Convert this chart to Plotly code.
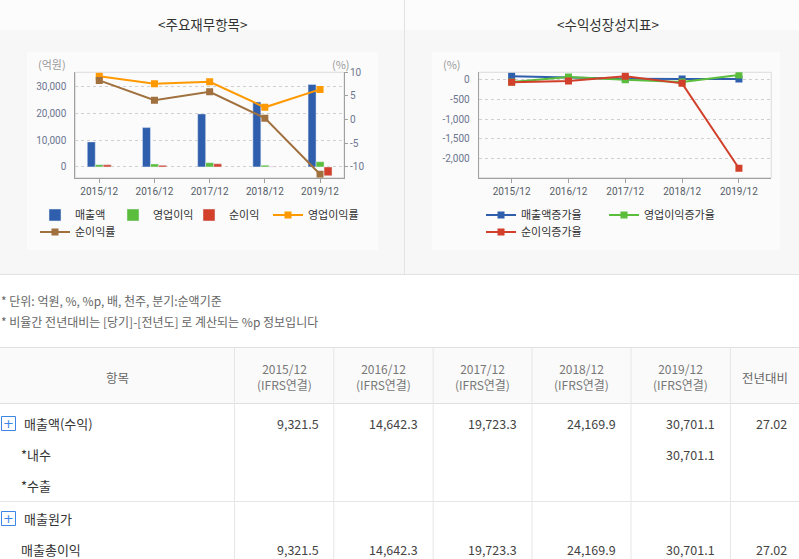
import plotly.graph_objects as go

W, H = 799, 559

# ---------------- data ----------------
periods = ["2015/12", "2016/12", "2017/12", "2018/12", "2019/12"]
revenue = [9321.5, 14642.3, 19723.3, 24169.9, 30701.1]
op_income = [850, 1110, 1580, 630, 1950]
net_income = [770, 600, 1160, 70, -3300]
op_margin = [9.2, 7.6, 8.0, 2.6, 6.4]
net_margin = [8.3, 4.1, 5.9, 0.3, -11.6]

rev_growth = [95, 57.1, 34.7, 22.5, 27.0]
op_growth = [-50, 75, 5, -50, 127]
net_growth = [-60, -25, 93, -85, -2250]

left_y_ticks = [0, 10000, 20000, 30000]
left_y_text = ["0", "10,000", "20,000", "30,000"]
right_y_ticks = [-10, -5, 0, 5, 10]
right_y_text = ["-10", "-5", "0", "5", "10"]
growth_y_ticks = [0, -500, -1000, -1500, -2000]
growth_y_text = ["0", "-500", "-1,000", "-1,500", "-2,000"]

notes = ["* 단위: 억원, %, %p, 배, 천주, 분기:순액기준",
         "* 비율간 전년대비는 [당기]-[전년도] 로 계산되는 %p 정보입니다"]
table_header = ["항목", "2015/12<br>(IFRS연결)", "2016/12<br>(IFRS연결)", "2017/12<br>(IFRS연결)",
                "2018/12<br>(IFRS연결)", "2019/12<br>(IFRS연결)", "전년대비"]
row_labels = ["매출액(수익)", "*내수", "*수출", "매출원가", "매출총이익"]
row_expandable = [True, False, False, True, False]
row_values = [
    ["9,321.5", "14,642.3", "19,723.3", "24,169.9", "30,701.1", "27.02"],
    ["", "", "", "", "30,701.1", ""],
    ["", "", "", "", "", ""],
    ["", "", "", "", "", ""],
    ["9,321.5", "14,642.3", "19,723.3", "24,169.9", "30,701.1", "27.02"],
]

# ---------------- styles ----------------
C_BLUE = "#2f5fac"
C_GREEN = "#5bbd3c"
C_RED = "#d23f2a"
C_ORANGE = "#ff9900"
C_BROWN = "#a0703e"
KFONT = "Noto Sans CJK KR"
NFONT = "Roboto"


def px(x):
    return x / W


def py(y):
    return 1 - y / H


fig = go.Figure()

# left chart bars
fig.add_trace(go.Bar(x=periods, y=revenue, name="매출액", marker_color=C_BLUE,
                     xaxis="x", yaxis="y", legend="legend", legendwidth=33))
fig.add_trace(go.Bar(x=periods, y=op_income, name="영업이익", marker_color=C_GREEN,
                     xaxis="x", yaxis="y", legend="legend", legendwidth=31))
fig.add_trace(go.Bar(x=periods, y=net_income, name="순이익", marker_color=C_RED,
                     xaxis="x", yaxis="y", legend="legend", legendwidth=34))
fig.add_trace(go.Scatter(x=periods, y=op_margin, name="영업이익률", mode="lines+markers",
                         line=dict(color=C_ORANGE, width=2),
                         marker=dict(symbol="square", size=7, color=C_ORANGE),
                         xaxis="x", yaxis="y2", legend="legend"))
fig.add_trace(go.Scatter(x=periods, y=net_margin, name="순이익률", mode="lines+markers",
                         line=dict(color=C_BROWN, width=2),
                         marker=dict(symbol="square", size=7, color=C_BROWN),
                         xaxis="x", yaxis="y2", legend="legend2"))

# right chart lines
fig.add_trace(go.Scatter(x=periods, y=rev_growth, name="매출액증가율", mode="lines+markers",
                         line=dict(color=C_BLUE, width=2),
                         marker=dict(symbol="square", size=7, color=C_BLUE),
                         xaxis="x2", yaxis="y3", legend="legend3", legendwidth=78))
fig.add_trace(go.Scatter(x=periods, y=op_growth, name="영업이익증가율", mode="lines+markers",
                         line=dict(color=C_GREEN, width=2),
                         marker=dict(symbol="square", size=7, color=C_GREEN),
                         xaxis="x2", yaxis="y3", legend="legend3"))
fig.add_trace(go.Scatter(x=periods, y=net_growth, name="순이익증가율", mode="lines+markers",
                         line=dict(color=C_RED, width=2),
                         marker=dict(symbol="square", size=7, color=C_RED),
                         xaxis="x2", yaxis="y3", legend="legend4"))

tickfont_y = dict(family=NFONT, size=10, color="#6b7690")
tickfont_x = dict(family=NFONT, size=10, color="#555b66")

LD = [px(75.3), px(344)]
RD = [px(478.7), px(771.3)]
YD = [py(177.7), py(72.3)]

legend_common = dict(orientation="h", xanchor="left", yanchor="top",
                     bgcolor="rgba(0,0,0,0)", borderwidth=0, itemwidth=30,
                     font=dict(family=KFONT, size=11, color="#333333"),
                     itemclick=False, itemdoubleclick=False)

fig.update_layout(
    width=W, height=H,
    margin=dict(l=0, r=0, t=0, b=0, autoexpand=False),
    paper_bgcolor="white", plot_bgcolor="white",
    barmode="group", bargap=0.566, bargroupgap=0,
    showlegend=True,
    legend=dict(x=px(35), y=py(215 - 14.5), **legend_common),
    legend2=dict(x=px(35), y=py(232 - 14.5), **legend_common),
    legend3=dict(x=px(481), y=py(215 - 14.5), **legend_common),
    legend4=dict(x=px(481), y=py(232 - 14.5), **legend_common),
    xaxis=dict(domain=LD, anchor="y", type="category", range=[-0.434, 4.434],
               showline=True, linecolor="#a0a0a0", linewidth=1,
               ticks="outside", ticklen=4, tickcolor="#a0a0a0",
               tickfont=tickfont_x, showgrid=False, zeroline=False, fixedrange=True),
    yaxis=dict(domain=YD, anchor="x", range=[-4000, 35200],
               tickvals=left_y_ticks, ticktext=left_y_text,
               showgrid=True, gridcolor="#d0d0d0", griddash="dot", gridwidth=1,
               showline=True, linecolor="#a0a0a0", ticks="", ticklabelstandoff=6,
               zeroline=False, tickfont=tickfont_y, fixedrange=True),
    yaxis2=dict(overlaying="y", side="right", anchor="x", range=[-12.32, 10.02],
                tickvals=right_y_ticks, ticktext=right_y_text,
                showgrid=False, showline=True, linecolor="#a0a0a0",
                ticks="outside", ticklen=3, tickcolor="#a0a0a0",
                zeroline=False, tickfont=tickfont_y, fixedrange=True),
    xaxis2=dict(domain=RD, anchor="y3", type="category", range=[-0.58, 4.57],
                showline=True, linecolor="#a0a0a0", linewidth=1,
                ticks="outside", ticklen=4, tickcolor="#a0a0a0",
                tickfont=tickfont_x, showgrid=False, zeroline=False, fixedrange=True),
    yaxis3=dict(domain=YD, anchor="x2", range=[-2490, 196],
                tickvals=growth_y_ticks, ticktext=growth_y_text,
                showgrid=True, gridcolor="#d0d0d0", griddash="dot", gridwidth=1,
                showline=True, linecolor="#a0a0a0", ticks="", ticklabelstandoff=6,
                zeroline=False, tickfont=tickfont_y, fixedrange=True),
)

shapes = []


def rect(x0, y0, x1, y1, fill=None, line=None, lw=1, layer="below"):
    shapes.append(dict(type="rect", xref="paper", yref="paper",
                       x0=px(x0), x1=px(x1), y0=py(y0), y1=py(y1),
                       fillcolor=fill if fill else "rgba(0,0,0,0)",
                       line=dict(color=line if line else "rgba(0,0,0,0)", width=lw if line else 0),
                       layer=layer))


def hline(y, x0, x1, color, layer="below"):
    shapes.append(dict(type="line", xref="paper", yref="paper",
                       x0=px(x0), x1=px(x1), y0=py(y), y1=py(y),
                       line=dict(color=color, width=1), layer=layer))


def vline(x, y0, y1, color, layer="below"):
    shapes.append(dict(type="line", xref="paper", yref="paper",
                       x0=px(x), x1=px(x), y0=py(y0), y1=py(y1),
                       line=dict(color=color, width=1), layer=layer))


# chart panels
rect(0, 0, 404, 274, fill="#f7f7f7")
rect(405, 0, 799, 274, fill="#f7f7f7")
rect(0, 0, 404, 30, fill="#fcfcfc")
rect(405, 0, 799, 30, fill="#fcfcfc")
rect(27, 52, 378, 250, fill="#fbfbfb")
rect(432, 52, 780, 250, fill="#fbfbfb")
vline(404.5, 0, 274, "#e2e2e2")
hline(274.5, 0, 799, "#e2e2e2")

# plot frame (light top/right border)
shapes.append(dict(type="rect", xref="x domain", yref="y domain", x0=0, x1=1, y0=0, y1=1,
                   line=dict(color="#dcdcdc", width=1), fillcolor="rgba(0,0,0,0)", layer="below"))
shapes.append(dict(type="rect", xref="x2 domain", yref="y3 domain", x0=0, x1=1, y0=0, y1=1,
                   line=dict(color="#dcdcdc", width=1), fillcolor="rgba(0,0,0,0)", layer="below"))

# table
col_edges = [0, 234.5, 333.8, 433.2, 532, 631, 730.4, 799]
rect(0, 347, 799, 403, fill="#fafafa")
hline(347.5, 0, 799, "#e0e0e0")
hline(403.5, 0, 799, "#e0e0e0")
hline(501.5, 0, 799, "#e6e6e6")
for xe in col_edges[1:-1]:
    vline(xe, 347.5, 559, "#e6e6e6")

row_y = [423.5, 454, 485, 518.5, 549]
annotations = []


def text(x, y, s, size, color, xanchor="center", family=KFONT):
    annotations.append(dict(xref="paper", yref="paper", x=px(x), y=py(y), text=s,
                            showarrow=False, xanchor=xanchor, yanchor="middle",
                            font=dict(family=family, size=size, color=color)))


for i, lab in enumerate(row_labels):
    y = row_y[i]
    if row_expandable[i]:
        rect(1.5, y - 7, 15.5, y + 7, line="#3d85e6", layer="above")
        text(8.5, y - 0.5, "+", 13, "#3d85e6", family="DejaVu Sans")
        text(21.5, y, lab, 13, "#333333", xanchor="left")
    else:
        text(19, y, lab, 13, "#333333", xanchor="left")
    for j, v in enumerate(row_values[i]):
        if v:
            right = col_edges[j + 2] - 13 if j < 5 else 789
            text(right, y, v, 12.5, "#444444", xanchor="right")

# header
text(117.5, 377, table_header[0], 12.5, "#666666")
for j in range(1, 6):
    cx = (col_edges[j] + col_edges[j + 1]) / 2
    text(cx, 376, table_header[j], 12, "#777777")
text(764.5, 377, table_header[6], 12.5, "#666666")

# notes
text(-1, 300, notes[0], 12, "#666666", xanchor="left")
text(-1, 321.5, notes[1], 12, "#666666", xanchor="left")

# chart titles & axis titles
text(202.5, 23.5, "&lt;주요재무항목&gt;", 13.5, "#333333")
text(607.5, 23.5, "&lt;수익성장성지표&gt;", 13.5, "#333333")
text(68, 64, "(억원)", 11, "#9a9a9a", xanchor="right")
text(341, 64, "(%)", 11, "#9a9a9a")
text(451.5, 64, "(%)", 11, "#9a9a9a")

fig.update_layout(shapes=shapes, annotations=annotations)

fig.write_html("out.html")
